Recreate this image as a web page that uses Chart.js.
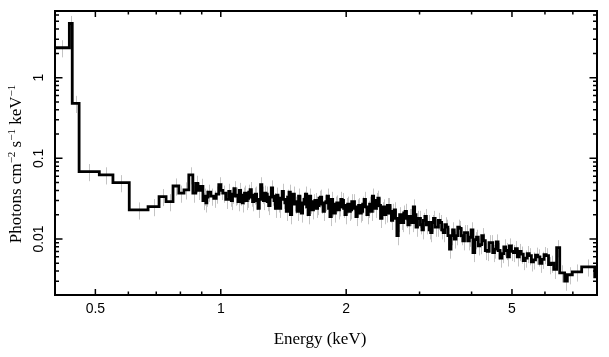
<!DOCTYPE html>
<html><head><meta charset="utf-8">
<script src="https://cdn.jsdelivr.net/npm/chart.js@4"></script>
<style>html,body{margin:0;padding:0;background:#fff}canvas{display:block}</style>
</head><body>
<canvas id="c" width="609" height="357"></canvas>
<script>
// Bin lower edges (keV); the last entry is the upper edge of the final bin
const binEdges = [0.40,0.433,0.440,0.457,0.511,0.551,0.603,0.669,0.711,0.739,0.768,0.793,0.816,0.838,0.857,0.871,
0.881,0.893,0.906,0.913,0.921,0.926,0.931,0.946,0.962,0.975,0.989,1.000,1.011,1.028,1.045,1.052,1.060,1.067,1.075,1.083,
1.092,1.100,1.108,1.116,1.125,1.132,1.140,1.149,1.158,1.167,1.176,1.184,1.192,1.201,1.210,1.219,1.228,1.237,
1.246,1.255,1.265,1.274,1.284,1.293,1.303,1.312,1.322,1.332,1.342,1.352,1.362,1.372,1.383,1.393,1.404,1.414,
1.425,1.436,1.447,1.458,1.469,1.480,1.491,1.502,1.514,1.525,1.537,1.548,1.560,1.572,1.584,1.596,1.608,1.620,
1.632,1.644,1.657,1.669,1.682,1.695,1.708,1.721,1.734,1.747,1.760,1.773,1.787,1.800,1.814,1.828,1.842,1.856,
1.870,1.884,1.898,1.912,1.927,1.941,1.956,1.971,1.986,2.001,2.016,2.031,2.047,2.062,2.078,2.094,2.110,2.126,
2.142,2.158,2.175,2.191,2.208,2.225,2.242,2.259,2.276,2.293,2.311,2.328,2.346,2.364,2.382,2.400,2.418,2.436,
2.455,2.473,2.492,2.511,2.530,2.549,2.568,2.587,2.607,2.627,2.647,2.667,2.687,2.707,2.728,2.749,2.770,2.791,
2.812,2.833,2.855,2.876,2.898,2.920,2.942,2.966,2.990,3.015,3.04,3.065,3.09,3.115,3.14,3.165,3.19,3.215,
3.24,3.27,3.30,3.33,3.36,3.39,3.42,3.45,3.48,3.51,3.54,3.57,3.60,3.635,3.67,3.705,3.74,3.775,3.81,3.845,
3.88,3.915,3.95,3.99,4.03,4.07,4.11,4.15,4.19,4.23,4.27,4.315,4.36,4.405,4.45,4.495,4.54,4.585,4.63,4.68,
4.73,4.78,4.83,4.88,4.93,4.985,5.04,5.095,5.15,5.205,5.26,5.32,5.38,5.44,5.50,5.565,5.63,5.695,5.76,5.83,
5.90,5.97,6.04,6.12,6.20,6.30,6.40,6.51,6.69,6.79,6.98,7.35,7.90,8.00];
// Photons cm^-2 s^-1 keV^-1 in each bin
const fluxValues = [2.35,4.7,0.48,0.0685,0.0624,0.0499,0.0229,0.0252,0.0336,0.0290,0.0454,0.0370,0.0406,0.0624,0.0370,0.049,
0.040,0.045,0.030,0.034,0.028,0.033,0.038,0.034,0.032,0.036,0.047,0.040,0.037,0.031,0.039,0.033,0.030,0.036,0.042,0.034,
0.035,0.029,0.040,0.034,0.028,0.035,0.037,0.030,0.032,0.038,0.041,0.033,0.029,0.035,0.036,0.030,0.024,0.031,
0.047,0.036,0.030,0.037,0.036,0.029,0.026,0.033,0.043,0.034,0.030,0.024,0.035,0.028,0.024,0.032,0.039,0.031,
0.028,0.022,0.033,0.038,0.020,0.027,0.036,0.029,0.027,0.022,0.034,0.028,0.021,0.027,0.031,0.036,0.025,0.020,
0.034,0.027,0.023,0.029,0.030,0.024,0.026,0.032,0.033,0.027,0.022,0.028,0.029,0.034,0.024,0.019,0.031,0.025,
0.021,0.027,0.028,0.023,0.025,0.031,0.030,0.024,0.020,0.026,0.027,0.022,0.023,0.029,0.029,0.024,0.019,0.025,
0.026,0.021,0.022,0.027,0.031,0.025,0.020,0.024,0.027,0.022,0.034,0.028,0.024,0.030,0.032,0.026,0.018,0.023,
0.025,0.020,0.021,0.026,0.026,0.021,0.017,0.022,0.023,0.018,0.011,0.016,0.020,0.017,0.016,0.021,0.022,0.018,
0.015,0.019,0.019,0.016,0.025,0.020,0.014,0.018,0.018,0.015,0.013,0.017,0.019,0.015,0.016,0.013,0.012,0.016,
0.018,0.014,0.014,0.017,0.016,0.013,0.012,0.015,0.014,0.011,0.0075,0.011,0.013,0.010,0.011,0.014,0.0135,0.011,0.0095,0.012,
0.012,0.0095,0.0105,0.013,0.0068,0.0098,0.0105,0.0082,0.0085,0.0110,0.0095,0.0072,0.0070,0.0090,0.0090,0.0068,0.0075,0.0092,0.0072,0.0058,
0.0066,0.0080,0.0072,0.0060,0.0082,0.0070,0.0068,0.0076,0.0060,0.0070,0.0065,0.0054,0.0058,0.0066,0.0062,0.0052,0.0055,0.0063,0.0060,0.0050,
0.0056,0.0064,0.0062,0.0048,0.0050,0.0042,0.0078,0.0038,0.0030,0.0036,0.0039,0.0045,0.0034];
const relError = 0.24;

const xRange = [0.4, 8.0];
const yRange = [0.00202, 6.71];
const xMajorTicks = [0.5, 1, 2, 5];
const xTickLabels = ['0.5', '1', '2', '5'];
const xMinorTicks = [0.6, 0.7, 0.8, 0.9, 3, 4, 6, 7];
const yMajorTicks = [0.01, 0.1, 1];
const yTickLabels = ['0.01', '0.1', '1'];
const yMinorTicks = [0.003,0.004,0.005,0.006,0.007,0.008,0.009,0.02,0.03,0.04,0.05,0.06,0.07,0.08,0.09,
                     0.2,0.3,0.4,0.5,0.6,0.7,0.8,0.9,2,3,4,5,6];
const xTitle = 'Energy (keV)';
const yTitleParts = [['Photons cm', false], ['\u22122', true], [' s', false], ['\u22121', true], [' keV', false], ['\u22121', true]];

const points = binEdges.map((e, i) => ({x: e, y: fluxValues[Math.min(i, fluxValues.length - 1)]}));

const framePlugin = {
  id: 'frame',
  beforeDatasetsDraw(chart) {
    const {ctx, chartArea: a} = chart;
    const xs = chart.scales.x, ys = chart.scales.y;
    ctx.save();
    ctx.beginPath(); ctx.rect(a.left, a.top, a.right - a.left, a.bottom - a.top); ctx.clip();
    ctx.strokeStyle = '#c4c4c4'; ctx.lineWidth = 1;
    ctx.beginPath();
    for (let i = 0; i < fluxValues.length; i++) {
      const xc = Math.round(xs.getPixelForValue(Math.sqrt(binEdges[i] * binEdges[i + 1]))) + 0.5;
      const v = fluxValues[i];
      ctx.moveTo(xc, ys.getPixelForValue(v * (1 + relError)));
      ctx.lineTo(xc, ys.getPixelForValue(v * (1 - relError)));
    }
    ctx.stroke();
    ctx.restore();
  },
  afterDraw(chart) {
    const {ctx, chartArea: a} = chart;
    const xs = chart.scales.x, ys = chart.scales.y;
    ctx.save();
    ctx.strokeStyle = '#000';
    ctx.lineWidth = 1.5;
    ctx.beginPath();
    xs.ticks.forEach(t => {
      const major = xMajorTicks.includes(t.value);
      const len = major ? 6 : 3.5;
      const px = xs.getPixelForValue(t.value);
      ctx.moveTo(px, a.bottom); ctx.lineTo(px, a.bottom - len);
      ctx.moveTo(px, a.top); ctx.lineTo(px, a.top + len);
    });
    ys.ticks.forEach(t => {
      const major = yMajorTicks.includes(t.value);
      const len = major ? 7.5 : 4;
      const py = ys.getPixelForValue(t.value);
      ctx.moveTo(a.left, py); ctx.lineTo(a.left + len, py);
      ctx.moveTo(a.right, py); ctx.lineTo(a.right - len, py);
    });
    ctx.stroke();
    ctx.lineWidth = 2;
    ctx.strokeRect(a.left, a.top, a.right - a.left, a.bottom - a.top);

    ctx.fillStyle = '#000';
    ctx.font = '14px "Liberation Sans", Arial, sans-serif';
    ctx.textAlign = 'center'; ctx.textBaseline = 'alphabetic';
    xMajorTicks.forEach((v, i) => ctx.fillText(xTickLabels[i], xs.getPixelForValue(v), a.bottom + 18));
    yMajorTicks.forEach((v, i) => {
      ctx.save();
      ctx.translate(a.left - 12.5, ys.getPixelForValue(v));
      ctx.rotate(-Math.PI / 2);
      ctx.fillText(yTickLabels[i], 0, 0);
      ctx.restore();
    });
    ctx.font = '17px "Liberation Serif"';
    ctx.fillText(xTitle, 320, 344);
    const baseFont = '17px "Liberation Serif"', supFont = '11px "Liberation Serif"';
    let total = 0;
    yTitleParts.forEach(([s, sup]) => { ctx.font = sup ? supFont : baseFont; total += ctx.measureText(s).width; });
    ctx.translate(21, 164);
    ctx.rotate(-Math.PI / 2);
    ctx.textAlign = 'left';
    let cx = -total / 2;
    yTitleParts.forEach(([s, sup]) => {
      ctx.font = sup ? supFont : baseFont;
      ctx.fillText(s, cx, sup ? -6 : 0);
      cx += ctx.measureText(s).width;
    });
    ctx.restore();
  }
};

new Chart(document.getElementById('c'), {
  type: 'line',
  data: {datasets: [{data: points, stepped: true, borderColor: '#000', borderWidth: 2.8,
    pointRadius: 0, fill: false, tension: 0, borderJoinStyle: 'miter'}]},
  options: {
    responsive: false, animation: false, devicePixelRatio: 1,
    layout: {padding: {top: 11, right: 12, left: 0, bottom: 0}},
    plugins: {legend: {display: false}, tooltip: {enabled: false}},
    scales: {
      x: {
        type: 'logarithmic', position: 'bottom', min: xRange[0], max: xRange[1],
        grid: {display: false}, border: {display: false},
        afterBuildTicks: s => { s.ticks = xMajorTicks.concat(xMinorTicks).sort((p, q) => p - q).map(v => ({value: v})); },
        ticks: {display: false, autoSkip: false},
        afterFit: s => { s.height = 62; }
      },
      y: {
        type: 'logarithmic', position: 'left', min: yRange[0], max: yRange[1],
        grid: {display: false}, border: {display: false},
        afterBuildTicks: s => { s.ticks = yMajorTicks.concat(yMinorTicks).sort((p, q) => p - q).map(v => ({value: v})); },
        ticks: {display: false, autoSkip: false},
        afterFit: s => { s.width = 55; }
      }
    }
  },
  plugins: [framePlugin]
});
</script>
</body></html>
